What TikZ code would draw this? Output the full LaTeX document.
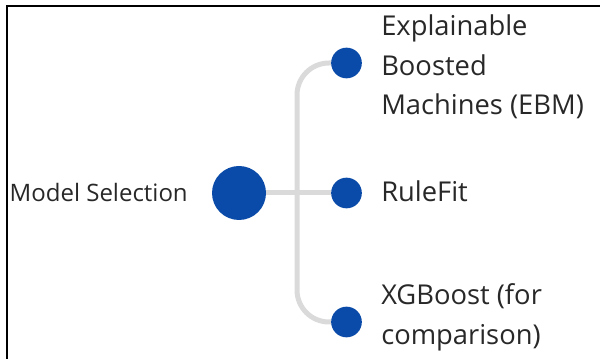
\documentclass[tikz,border=0pt]{standalone}
\usepackage{fontspec}
\setmainfont{Open Sans}
\usetikzlibrary{backgrounds}
\definecolor{dotblue}{RGB}{10,74,168}
\definecolor{conngray}{RGB}{218,218,218}
\definecolor{txtgray}{RGB}{40,40,40}
\begin{document}
\begin{tikzpicture}[x=0.75pt,y=-0.75pt,
  bigdot/.style={circle,fill=dotblue,minimum size=40.5pt,inner sep=0pt},
  smalldot/.style={circle,fill=dotblue,minimum size=23pt,inner sep=0pt},
  conn/.style={draw=conngray,line width=3.75pt},
  lbl/.style={text=txtgray,font=\fontsize{20.5}{29.6}\selectfont,inner sep=0pt,anchor=base west},
  rootlbl/.style={text=txtgray,font=\fontsize{18}{24}\selectfont,inner sep=0pt,anchor=base east},
  frameline/.style={line width=1.5pt,draw=black}]
\useasboundingbox (0,0) rectangle (600,359);
\draw[frameline] (7,359) -- (7,6) -- (600,6);
\node[bigdot] (root) at (239,193) {};
\node[smalldot] (ebm) at (346.5,63) {};
\node[smalldot] (rf) at (346.5,193) {};
\node[smalldot] (xgb) at (346.5,322) {};
\coordinate (j) at (297,193);
\begin{scope}[on background layer]
\draw[conn] (root) -- (rf);
\draw[conn,rounded corners=24pt] (ebm.center) -| (j) |- (xgb.center);
\end{scope}
\node[rootlbl] (msl) at (188,202) {Model Selection};
\node[lbl] (ebml) at (381,36) {\begin{tabular}[t]{@{}l@{}}Explainable\\Boosted\\Machines (EBM)\end{tabular}};
\node[lbl] (rfl) at (381,202) {RuleFit};
\node[lbl] (xgbl) at (381,305) {\begin{tabular}[t]{@{}l@{}}XGBoost (for\\comparison)\end{tabular}};
\end{tikzpicture}
\end{document}
